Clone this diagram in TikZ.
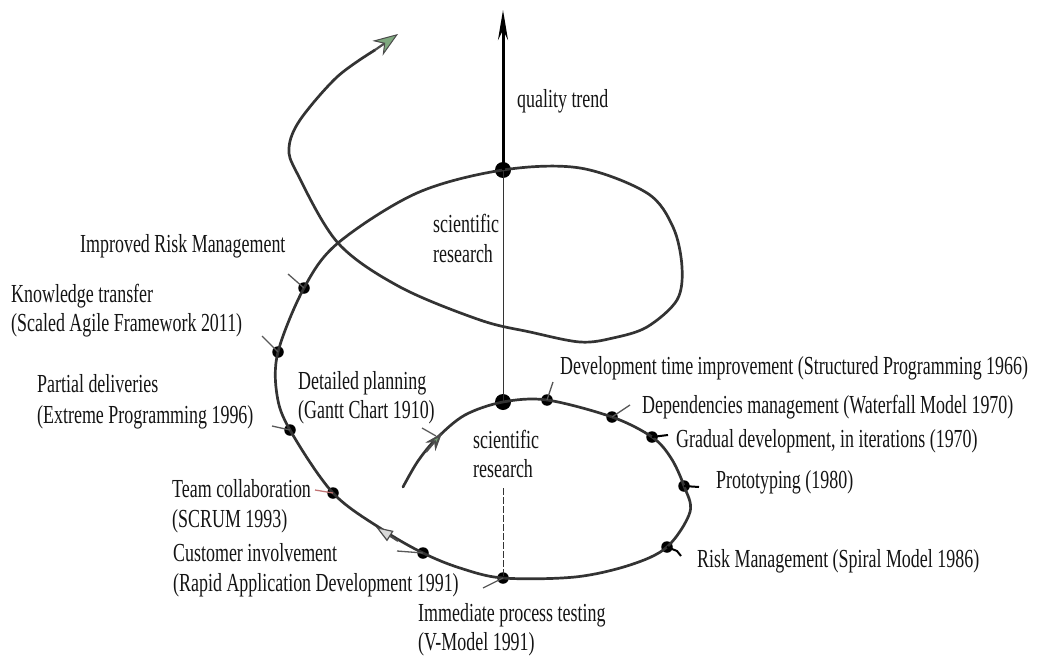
\documentclass[tikz,border=0pt]{standalone}
\usepackage{fontspec}
\setmainfont{Liberation Serif}[FakeStretch=0.69]
\usetikzlibrary{arrows.meta}
\begin{document}
\begin{tikzpicture}[x=1pt,y=-1pt,
  curve/.style={line width=2.7pt, draw=black!80, line cap=round},
  dot/.style={circle, fill=black, inner sep=0pt, minimum size=11.5pt},
  bigdot/.style={circle, fill=black, inner sep=0pt, minimum size=16pt},
  tick/.style={line width=1.3pt, draw=black!65},
  lbl/.style={font=\fontsize{26}{30}\selectfont, inner sep=0pt, anchor=base west, text=black!92}]
\useasboundingbox (0,0) rectangle (1039,661);
% dots
\node[bigdot] (d1) at (503,402) {};
\node[dot] (d2) at (547,400) {};
\node[dot] (d3) at (612,417) {};
\node[dot] (d4) at (652,437) {};
\node[dot] (d5) at (684,486) {};
\node[dot] (d6) at (667,547) {};
\node[dot] (d7) at (503,578) {};
\node[dot] (d8) at (423,553) {};
\node[dot] (d9) at (333,493) {};
\node[dot] (d10) at (290,430) {};
\node[dot] (d11) at (278,352) {};
\node[dot] (d12) at (304,288) {};
\node[bigdot] (d13) at (503,170) {};
\coordinate (start) at (403,487);
\coordinate (cross) at (338,243);
\coordinate (tip) at (398,34);
\coordinate (top) at (503,10);
\coordinate (dashstart) at (503,488);
% spiral
\draw[curve] plot[smooth, tension=0.55] coordinates {
 (start) (418,461) (437,438) (465,415) (d1.center) (d2.center) (d3.center) (d4.center) (671,458)
 (d5.center) (690,512) (d6.center) (630,565) (575,577) (d7.center) (460,568) (d8.center) (383,530)
 (d9.center) (d10.center) (277,395) (d11.center) (d12.center) (cross) (417,193) (d13.center)
 (580,168) (647,193) (673,227) (682,267) (677,300) (647,327) (613,338) (580,342) (530,332) (480,320)
 (400,287) (cross) (297,173) (289,148) (300,120) (337,77) (375,50)};
\draw[line width=2.2pt, black!70, -{Stealth[length=25pt, width=18pt, fill=gray!55!green!60!black!60, line width=1pt]}] (375,50) -- (tip);
% mid arrows
\coordinate (a1s) at (426,452);
\coordinate (a1e) at (442,433);
\draw[line width=2pt, black!70, -{Stealth[length=18pt, width=13pt, fill=gray!60!green!70!black!70]}] (a1s) -- (a1e);
\coordinate (a2s) at (398,541);
\coordinate (a2e) at (376,527);
\draw[line width=2pt, black!70, -{Triangle[length=17pt, width=12pt, fill=gray!30, line width=1.2pt]}] (a2s) -- (a2e);
% axis
\draw[line width=3pt, -{Stealth[length=30pt, width=10pt]}] (d13.center) -- (top);
\draw[line width=1pt, black!80] (d13.center) -- (d1.center);
\draw[line width=1pt, black!80, dash pattern=on 7pt off 2pt] (dashstart) -- (d7.center);
% ticks
\draw[tick] (d12.center) -- ++(-16,-14);
\draw[tick] (d11.center) -- ++(-16,-16);
\draw[tick] (d10.center) -- ++(-18,-4);
\draw[tick, draw=black!45!red!55] (d9.center) -- ++(-18,-3);
\draw[tick] (d8.center) -- ++(-26,-2);
\draw[tick] (d7.center) -- ++(-20,10);
\draw[tick] (d2.center) -- ++(6,-18);
\draw[tick] (d3.center) -- ++(18,-12);
\draw[tick, draw=black, line width=2pt] (d4.center) -- ++(16,-2);
\draw[tick, draw=black, line width=2pt] (d5.center) -- ++(15,1);
\draw[tick, draw=black, line width=2pt] (d6.center) -- ++(10,4) -- ++(4,5);
\draw[tick] (422,428) -- (436,436);
% labels
\node[lbl] (q) at (517,107) {quality trend};
\node[lbl] (s1a) at (433,232) {scientific};
\node[lbl] (s1b) at (433,262) {research};
\node[lbl] (s2a) at (473,448) {scientific};
\node[lbl] (s2b) at (473,477) {research};
\node[lbl] (l1) at (80,252) {Improved Risk Management};
\node[lbl] (l2a) at (11,302) {Knowledge transfer};
\node[lbl] (l2b) at (11,331) {(Scaled Agile Framework 2011)};
\node[lbl] (l3a) at (37,392) {Partial deliveries};
\node[lbl] (l3b) at (37,423) {(Extreme Programming 1996)};
\node[lbl] (l4a) at (298,389) {Detailed planning};
\node[lbl] (l4b) at (298,418) {(Gantt Chart 1910)};
\node[lbl] (l5a) at (172,497) {Team collaboration};
\node[lbl] (l5b) at (172,527) {(SCRUM 1993)};
\node[lbl] (l6a) at (173,561) {Customer involvement};
\node[lbl] (l6b) at (173,591) {(Rapid Application Development 1991)};
\node[lbl] (l7a) at (418,621) {Immediate process testing};
\node[lbl] (l7b) at (418,650) {(V-Model 1991)};
\node[lbl] (r1) at (560,374) {Development time improvement (Structured Programming 1966)};
\node[lbl] (r2) at (642,413) {Dependencies management (Waterfall Model 1970)};
\node[lbl] (r3) at (676,447) {Gradual development, in iterations (1970)};
\node[lbl] (r4) at (716,488) {Prototyping (1980)};
\node[lbl] (r5) at (697,567) {Risk Management (Spiral Model 1986)};
\end{tikzpicture}
\end{document}
